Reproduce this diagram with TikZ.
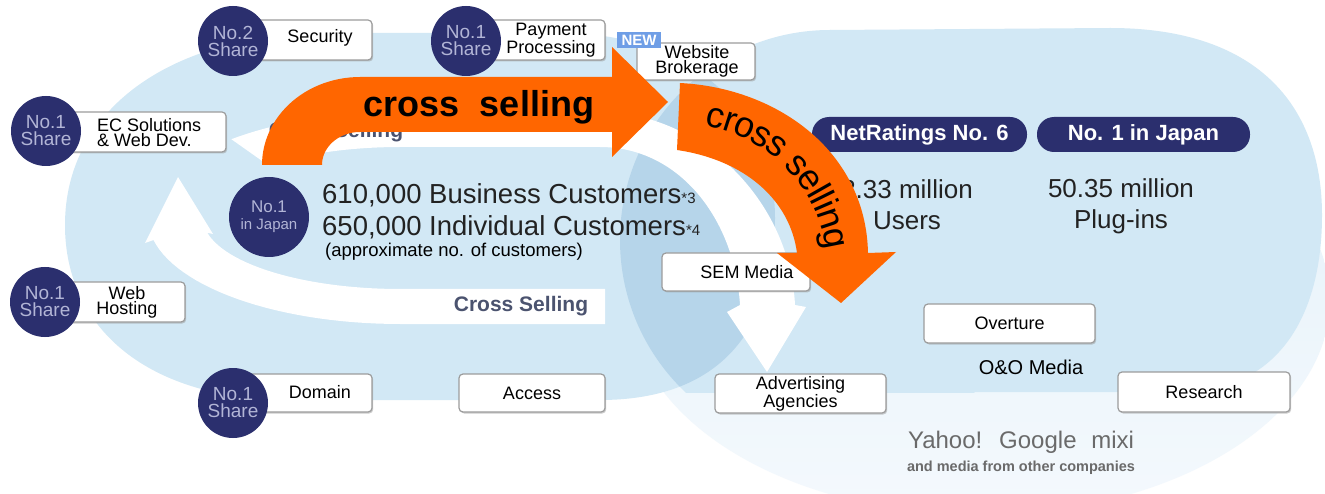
\documentclass[tikz,border=0pt]{standalone}
\usepackage{fontspec}
\setmainfont{Liberation Sans}
\usetikzlibrary{decorations.text,shadows}
\definecolor{navy}{HTML}{2B2F6E}
\definecolor{orng}{HTML}{FF6600}
\definecolor{bluA}{HTML}{D2E8F5}
\definecolor{bluB}{HTML}{B6D5EA}
\definecolor{bluC}{HTML}{E4F1F9}
\definecolor{bluD}{HTML}{F4F9FD}
\definecolor{boxline}{HTML}{9C9C9C}
\definecolor{circtext}{HTML}{B2B5D6}
\definecolor{newblue}{HTML}{6F9EE6}
\definecolor{bandtext}{HTML}{4B536F}
\definecolor{darktext}{HTML}{222222}
\definecolor{graytext}{HTML}{6A6A6A}
\newcommand\myfs[2]{\fontsize{#1}{#2}\selectfont}
\begin{document}
\begin{tikzpicture}[x=1pt,y=-1pt,
  box/.style={draw=boxline, line width=1.2pt, fill=white, rounded corners=4pt, inner sep=0pt,
    font=\myfs{18}{15}, align=center,
    drop shadow={shadow xshift=1.2pt, shadow yshift=-1.5pt, fill=black!40, opacity=0.5}},
  boxtxt/.style={font=\myfs{18}{15}, align=center, inner sep=0pt},
  badge/.style={circle, fill=navy, inner sep=0pt, minimum size=70pt, text=circtext, font=\myfs{19}{17}, align=center},
  pill/.style={rounded corners=17pt, fill=navy, text=white, font=\bfseries\myfs{22}{22}, minimum height=35pt, inner sep=0pt},
  stat/.style={font=\myfs{26}{31}, align=center, inner sep=0pt, text=darktext},
  bandlbl/.style={text=bandtext, font=\bfseries\myfs{21}{21}, inner sep=0pt},
]
\useasboundingbox (0,0) rectangle (1325,494);
\fill[white] (0,0) rectangle (1325,494);

% lower light area of the right group
\shade[top color=bluC, bottom color=bluD] (980,300) ellipse[x radius=350, y radius=215];

% saturated right group
\begin{scope}
\clip (600,0) rectangle (1325,392);
\fill[bluA] (830,240) circle[radius=210];
\fill[bluA] (830,30) -- (1110,28) .. controls (1262,28) and (1322,110) .. (1322,215)
  .. controls (1322,320) and (1275,392) .. (1180,392) -- (830,392) -- cycle;
\end{scope}

% left group
\fill[bluA] (65,225) .. controls (65,110) and (170,33) .. (330,33) -- (560,33)
  .. controls (700,33) and (775,120) .. (775,218) .. controls (775,330) and (720,400) .. (600,400)
  -- (290,400) .. controls (150,400) and (65,330) .. (65,225) -- cycle;

% overlap
\begin{scope}
\clip (65,225) .. controls (65,110) and (170,33) .. (330,33) -- (560,33)
  .. controls (700,33) and (775,120) .. (775,218) .. controls (775,330) and (720,400) .. (600,400)
  -- (290,400) .. controls (150,400) and (65,330) .. (65,225) -- cycle;
\fill[bluB] (830,240) circle[radius=210];
\end{scope}

% white circular arrow: bottom and left part
\fill[white] (605,289) -- (605,324) -- (400,324)
  -- plot[domain=90:168, samples=30] ({400+252*cos(\x)},{218+106*sin(\x)})
  -- (145,243) -- (178,177) -- (213,234)
  -- plot[domain=168:90, samples=30] ({400+197*cos(\x)},{218+71*sin(\x)})
  -- cycle;
% white circular arrow: top and right part
\fill[white] plot[domain=228:270, samples=30] ({400+252*cos(\x)},{218+106*sin(\x)})
  -- (600,112) .. controls (700,112) and (790,200) .. (795,305)
  -- (806,307) -- (767,372) -- (727,312) -- (740,305)
  .. controls (735,220) and (680,147) .. (600,147) -- (400,147)
  -- plot[domain=270:228, samples=30] ({400+197*cos(\x)},{218+71*sin(\x)}) -- cycle;

\node[bandlbl] (cs1) at (336,132) {Cross Selling};
\node[bandlbl] (cs2) at (521,306) {Cross Selling};

% boxes
\node[box, minimum width=127pt, minimum height=40pt] (secB) at (308.5,40) {};
\node[boxtxt] (secT) at (320,38) {Security};
\node[box, minimum width=125pt, minimum height=40pt] (payB) at (542.5,40) {};
\node[boxtxt] (payT) at (551,40) {Payment\\Processing};
\node[box, minimum width=118pt, minimum height=37pt] (webB) at (696,61.5) {};
\node[boxtxt] (webT) at (697,61) {Website\\Brokerage};
\node[fill=newblue, minimum width=44pt, minimum height=16pt, inner sep=0pt, text=white,
  font=\bfseries\myfs{15}{15}] (new) at (639,40) {NEW};
\node[box, minimum width=166pt, minimum height=40pt] (ecB) at (143,132) {};
\node[boxtxt, align=left, anchor=west] (ecT) at (97,133) {EC Solutions\\\&{} Web Dev.};
\node[box, minimum width=125pt, minimum height=40pt] (whB) at (122.5,302) {};
\node[boxtxt] (whT) at (127,302) {Web\\Hosting};
\node[box, minimum width=127pt, minimum height=38pt] (domB) at (308.5,393) {};
\node[boxtxt] (domT) at (320,392) {Domain};
\node[box, minimum width=146pt, minimum height=38pt] (accB) at (532,393) {Access};
\node[box, minimum width=148pt, minimum height=38pt] (semB) at (736,272) {};
\node[boxtxt] (semT) at (747,272) {SEM Media};
\node[box, minimum width=171pt, minimum height=39pt] (ovB) at (1009.5,323.5) {Overture};
\node[box, minimum width=172pt, minimum height=40pt] (resB) at (1204,392) {Research};
\node[box, minimum width=171pt, minimum height=39pt] (advB) at (800.5,393.5) {Advertising\\Agencies};

% badges
\node[badge] (b1) at (233,41) {No.2\\Share};
\node[badge] (b2) at (466,41) {No.1\\Share};
\node[badge] (b3) at (46,131) {No.1\\Share};
\node[badge] (b4) at (45,302) {No.1\\Share};
\node[badge] (b5) at (233,403) {No.1\\Share};
\node[badge, minimum size=80pt] (b6) at (269,217) {{\myfs{17}{19}No.1}\\{\myfs{15}{19}in Japan}};

% pills and figures
\node[pill, minimum width=215pt] (nr) at (919.5,134.5) {NetRatings No. 6};
\node[pill, minimum width=213pt] (jp) at (1143.5,134.5) {No. 1 in Japan};
\node[stat] (users) at (907,205) {2.33 million\\Users};
\node[stat] (plug) at (1121,206) {50.35 million\\Plug-ins};

\node[anchor=base west, inner sep=0pt, font=\myfs{27.5}{27.5}, text=darktext] (biz) at (322,204)
  {610,000 Business Customers{\myfs{15}{15}*3}};
\node[anchor=base west, inner sep=0pt, font=\myfs{27.5}{27.5}, text=darktext] (ind) at (322,236)
  {650,000 Individual Customers{\myfs{15}{15}*4}};
\node[anchor=base west, inner sep=0pt, font=\myfs{18.5}{18.5}] (approx) at (325,257)
  {(approximate no. of customers)};

\node[font=\myfs{20}{20}, inner sep=0pt] (oo) at (1031,367) {O\&O Media};
\node[font=\myfs{24}{24}, text=graytext, inner sep=0pt] (yg) at (1021,442)
  {Yahoo!\hspace{8pt} Google\hspace{8pt} mixi};
\node[font=\bfseries\myfs{14.5}{14.5}, text=graytext, inner sep=0pt] (om) at (1021,468)
  {and media from other companies};

% orange arrow 1
\fill[orng] plot[domain=180:270, samples=30] ({360+98*cos(\x)},{165+88*sin(\x)})
  -- (612,77) -- (612,47) -- (668,102) -- (612,157) -- (612,132) -- (360,132)
  -- plot[domain=270:180, samples=30] ({360+38*cos(\x)},{165+33*sin(\x)}) -- cycle;
\node[anchor=base, inner sep=0pt, font=\bfseries\myfs{36}{36}] (cs3) at (479,117) {cross\ \ selling};

% orange arrow 2
\fill[orng] (680,83) .. controls (778,88) and (866,152) .. (868,253) -- (896,252) -- (841,303)
  -- (777,253) -- (797,253) .. controls (790,200) and (745,160) .. (677,150) -- cycle;
\path[decorate, decoration={text along path, text={|\myfs{36}{36}|cross selling},
  text align=center, raise=-10pt}]
  (690,114) .. controls (777,122) and (834,185) .. (837,265);
\end{tikzpicture}
\end{document}
